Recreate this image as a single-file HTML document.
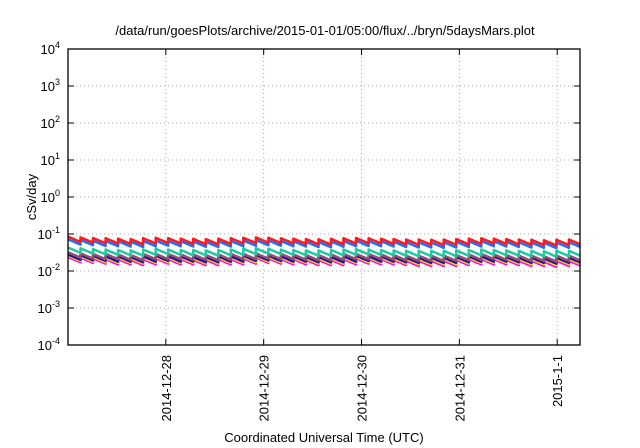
<!DOCTYPE html>
<html><head><meta charset="utf-8"><style>body{margin:0;background:#fff}svg{display:block}text{font-family:"Liberation Sans",sans-serif;fill:#000}</style></head>
<body>
<svg id="c" width="640" height="448">
<text x="325" y="35" font-size="13" text-anchor="middle">/data/run/goesPlots/archive/2015-01-01/05:00/flux/../bryn/5daysMars.plot</text>
<text transform="translate(36,197) rotate(-90)" font-size="13" text-anchor="middle">cSv/day</text>
<text x="324" y="442" font-size="13" text-anchor="middle">Coordinated Universal Time (UTC)</text>
<g id="grid"></g><g id="series"></g><g id="axes"></g>
</svg>
<script>
const xTickVals=[1,2,3,4,5];
const xTickLabels=["2014-12-28","2014-12-29","2014-12-30","2014-12-31","2015-1-1"];
const yTickExp=[-4,-3,-2,-1,0,1,2,3,4];
const toothPeriod=0.128;
const troughRatio=0.72;
const seriesColors=["#ff00ff","#ffd700","#1a1aa0","#994d6e","#1fc8a0","#1e6fff","#ff1a1a"];
const magenta=[0.024,0.023,0.022,0.021,0.021,0.020,0.021,0.022,0.021,0.021,0.020,0.020,0.021,0.021,0.022,0.023,0.022,0.021,0.021,0.020,0.020,0.020,0.021,0.022,0.021,0.021,0.020,0.019,0.019,0.019,0.019,0.020,0.021,0.021,0.021,0.020,0.019,0.019,0.018,0.019,0.019];
const yellow=[0.026,0.025,0.024,0.023,0.023,0.022,0.023,0.024,0.023,0.023,0.022,0.022,0.023,0.023,0.024,0.025,0.024,0.023,0.023,0.022,0.022,0.022,0.023,0.024,0.023,0.023,0.022,0.021,0.021,0.021,0.021,0.022,0.023,0.023,0.023,0.022,0.021,0.021,0.020,0.021,0.021];
const navy=[0.028,0.027,0.026,0.025,0.025,0.024,0.025,0.026,0.025,0.025,0.024,0.024,0.025,0.025,0.026,0.027,0.026,0.025,0.025,0.024,0.024,0.024,0.025,0.026,0.025,0.025,0.024,0.023,0.023,0.023,0.023,0.024,0.025,0.025,0.025,0.024,0.023,0.023,0.022,0.023,0.023];
const brown=[0.032,0.030,0.029,0.029,0.028,0.027,0.029,0.029,0.029,0.028,0.028,0.027,0.028,0.029,0.029,0.030,0.029,0.029,0.028,0.027,0.027,0.028,0.029,0.029,0.029,0.028,0.027,0.026,0.026,0.026,0.026,0.027,0.028,0.029,0.028,0.027,0.026,0.026,0.025,0.026,0.026];
const teal=[0.043,0.041,0.039,0.038,0.037,0.036,0.038,0.040,0.038,0.037,0.037,0.036,0.037,0.038,0.040,0.041,0.040,0.038,0.037,0.036,0.036,0.037,0.038,0.039,0.038,0.037,0.036,0.035,0.035,0.035,0.035,0.036,0.037,0.038,0.037,0.036,0.035,0.035,0.034,0.035,0.035];
const blue=[0.072,0.069,0.066,0.065,0.064,0.062,0.065,0.067,0.065,0.064,0.063,0.062,0.064,0.065,0.067,0.069,0.067,0.065,0.064,0.062,0.061,0.063,0.065,0.066,0.065,0.064,0.062,0.060,0.060,0.059,0.060,0.062,0.064,0.065,0.064,0.062,0.060,0.059,0.058,0.059,0.060];
const red=[0.085,0.081,0.078,0.077,0.075,0.073,0.077,0.079,0.077,0.075,0.074,0.073,0.075,0.077,0.079,0.081,0.079,0.077,0.075,0.073,0.072,0.074,0.077,0.078,0.077,0.075,0.073,0.071,0.071,0.070,0.071,0.073,0.075,0.077,0.075,0.073,0.071,0.070,0.068,0.070,0.071];
const allSeries=[magenta,yellow,navy,brown,teal,blue,red];
const L=68,R=580,T=49,B=345,xmin=0,xmax=5.233;
const X=t=>L+(t-xmin)/(xmax-xmin)*(R-L);
const Y=v=>B-(Math.log10(v)+4)/8*(B-T);
const NS="http://www.w3.org/2000/svg";
function mk(tag,attrs,parent){const e=document.createElementNS(NS,tag);for(const k in attrs)e.setAttribute(k,attrs[k]);document.getElementById(parent).appendChild(e);return e;}
yTickExp.forEach(e=>{const y=Y(Math.pow(10,e));
 if(e>-4&&e<4){const g=mk('line',{x1:L,x2:R,y1:y,y2:y,stroke:'#aaa','stroke-dasharray':'1,3'},'grid');}
 const t1=mk('line',{x1:L,x2:L+6,y1:y,y2:y,stroke:'#000'},'axes');
 const t2=mk('line',{x1:R,x2:R-6,y1:y,y2:y,stroke:'#000'},'axes');
 const tx=mk('text',{x:L-8,y:y+5,'font-size':'13','text-anchor':'end'},'axes');
 tx.innerHTML='10<tspan dy="-6" font-size="9">'+e+'</tspan>';
});
xTickVals.forEach((v,i)=>{const x=X(v);
 const g=mk('line',{x1:x,x2:x,y1:T,y2:B,stroke:'#aaa','stroke-dasharray':'1,3'},'grid');
 const t1=mk('line',{x1:x,x2:x,y1:B,y2:B-6,stroke:'#000'},'axes');
 const t2=mk('line',{x1:x,x2:x,y1:T,y2:T+6,stroke:'#000'},'axes');
 const tx=mk('text',{transform:`translate(${x+5},355) rotate(-90)`,'font-size':'13','text-anchor':'end'},'axes');
 tx.textContent=xTickLabels[i];
});
const fr=mk('rect',{x:L,y:T,width:R-L,height:B-T,fill:'none',stroke:'#000','stroke-width':'1.3'},'axes');

allSeries.forEach((arr,si)=>{let d='';
 arr.forEach((p,i)=>{const t0=i*toothPeriod;
  for(let k=0;k<=6;k++){const f=k/6;const t=Math.min(t0+f*toothPeriod,xmax);const v=p*Math.pow(troughRatio,f);
   d+=(d===''?'M':'L')+X(t).toFixed(1)+','+Y(v).toFixed(1);}
 });
 const pth=mk('path',{d:d,fill:'none',stroke:seriesColors[si],'stroke-width':'2.5','stroke-linejoin':'round'},'series');
 
 
});
</script>
</body></html>
